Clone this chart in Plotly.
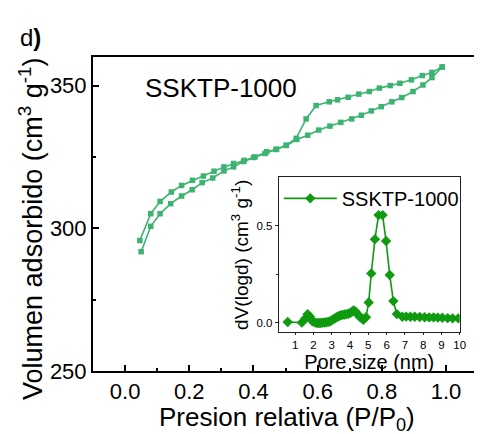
import plotly.graph_objects as go

# Main isotherm data
ads_p = [0.05, 0.08, 0.109, 0.142, 0.176, 0.209, 0.24, 0.273, 0.308, 0.338, 0.369, 0.4, 0.436, 0.47,
         0.502, 0.535, 0.569, 0.603, 0.638, 0.672, 0.706, 0.736, 0.767, 0.798, 0.831, 0.862, 0.897,
         0.928, 0.956, 0.988]
ads_v = [291.8, 300.7, 305.1, 308.6, 311.3, 313.5, 316.0, 317.6, 320.1, 321.5, 323.4, 324.8, 326.2,
         327.6, 329.0, 331.1, 332.6, 334.4, 335.8, 337.1, 338.3, 339.6, 341.1, 342.6, 344.3, 345.8,
         347.9, 350.2, 352.8, 356.5]
des_p = [0.988, 0.956, 0.926, 0.892, 0.856, 0.826, 0.792, 0.761, 0.728, 0.695, 0.662, 0.636, 0.595,
         0.564, 0.533, 0.502, 0.472, 0.441, 0.405, 0.371, 0.338, 0.308, 0.277, 0.244, 0.21, 0.176,
         0.144, 0.109, 0.08, 0.046]
des_v = [356.5, 354.6, 353.5, 352.0, 350.8, 350.0, 349.1, 347.9, 347.0, 345.9, 345.0, 344.3, 343.0,
         338.3, 331.5, 329.1, 327.7, 326.8, 325.0, 323.8, 322.7, 321.5, 320.0, 318.3, 316.8, 315.0,
         312.7, 309.4, 305.1, 295.7]

# Inset pore size distribution
pore_size = [0.59, 1.36, 1.54, 1.68, 1.81, 1.94, 2.08, 2.2, 2.3, 2.4, 2.5, 2.6, 2.7, 2.8, 2.9, 3.0,
             3.1, 3.2, 3.3, 3.4, 3.5, 3.6, 3.7, 3.8, 3.9, 4.0, 4.1, 4.19, 4.3, 4.42, 4.53, 4.64, 4.73,
             4.87, 5.02, 5.16, 5.36, 5.56, 5.78, 5.97, 6.17, 6.37, 6.56, 6.86, 7.07, 7.3, 7.54, 7.81,
             8.08, 8.33, 8.57, 8.8, 9.05, 9.34, 9.61, 9.92]
dv_logd = [0.003, 0.0, 0.02, 0.043, 0.03, 0.007, 0.0, -0.002, -0.002, -0.002, 0.0, 0.0, 0.002, 0.004,
           0.006, 0.012, 0.018, 0.024, 0.03, 0.034, 0.038, 0.04, 0.042, 0.044, 0.046, 0.05, 0.056,
           0.063, 0.058, 0.042, 0.03, 0.022, 0.015, 0.028, 0.104, 0.254, 0.43, 0.555, 0.555, 0.421,
           0.246, 0.111, 0.044, 0.03, 0.031, 0.03, 0.03, 0.029, 0.028, 0.027, 0.027, 0.026, 0.025,
           0.023, 0.022, 0.022]

sample = "SSKTP-1000"
main_color = "#3CB371"
inset_color = "#0f9a0f"
FONT = "Liberation Sans, Arial, sans-serif"

fig = go.Figure()
for px_, pv_ in [(ads_p, ads_v), (des_p, des_v)]:
    fig.add_trace(go.Scatter(x=px_, y=pv_, mode="lines+markers",
                             line=dict(color=main_color, width=1.6),
                             marker=dict(symbol="square", size=5.5, color=main_color),
                             showlegend=False, xaxis="x", yaxis="y"))

fig.add_trace(go.Scatter(x=pore_size, y=dv_logd, mode="lines+markers", name=sample,
                         line=dict(color=inset_color, width=1.6),
                         marker=dict(symbol="diamond", size=8, color=inset_color),
                         showlegend=True, xaxis="x2", yaxis="y2"))

fig.update_layout(
    width=480, height=434,
    margin=dict(l=93, r=0, t=57, b=63),
    paper_bgcolor="white", plot_bgcolor="white",
    font=dict(family=FONT, color="black"),
    xaxis=dict(domain=[0, 1], range=[-0.1, 1.087], showline=True, linecolor="black", linewidth=2,
               mirror=True, ticks="inside", ticklen=6, tickwidth=2, tickcolor="black",
               tickvals=[0.0, 0.2, 0.4, 0.6, 0.8, 1.0],
               ticktext=["0.0", "0.2", "0.4", "0.6", "0.8", "1.0"],
               minor=dict(dtick=0.1, ticks="inside", ticklen=3, tickwidth=2, tickcolor="black", showgrid=False),
               showgrid=False, zeroline=False, tickfont=dict(size=22)),
    yaxis=dict(domain=[0, 1], range=[250, 360], showline=True, linecolor="black", linewidth=2,
               mirror=False, ticks="inside", ticklen=6, tickwidth=2, tickcolor="black",
               tickvals=[250, 300, 350], ticktext=["250", "300", "350"],
               minor=dict(dtick=25, ticks="inside", ticklen=3, tickwidth=2, tickcolor="black", showgrid=False),
               showgrid=False, zeroline=False, tickfont=dict(size=22)),
    xaxis2=dict(domain=[0.4876, 0.9625], anchor="y2", range=[0.1, 10], showline=True, linecolor="#222",
                linewidth=1.2, mirror=True, ticks="outside", ticklen=2, tickcolor="#222",
                tickvals=list(range(1, 11)), showgrid=False, zeroline=False, tickfont=dict(size=11.5),
                title=dict(text="Pore size (nm)", font=dict(size=20), standoff=0)),
    yaxis2=dict(domain=[0.1232, 0.6169], anchor="x2", range=[-0.05, 0.75], showline=True, linecolor="#222",
                linewidth=1.2, mirror=True, ticks="outside", ticklen=3, tickcolor="#222",
                tickvals=[0.0, 0.5], ticktext=["0.0", "0.5"],
                minor=dict(tickvals=[0.25], ticks="outside", ticklen=2, tickcolor="#222"),
                showgrid=False, zeroline=False, tickfont=dict(size=11.5),
                title=dict(text="dV(logd) (cm<sup>3</sup> g<sup>-1</sup>)", font=dict(size=19), standoff=2)),
    legend=dict(x=0.4876, y=0.612, xanchor="left", yanchor="top", bgcolor="rgba(0,0,0,0)",
                font=dict(size=20), itemwidth=53, borderwidth=0),
    annotations=[
        dict(text=sample, xref="paper", yref="paper", x=(144 - 93) / 387, y=(371 - 88) / 314,
             xanchor="left", yanchor="middle", showarrow=False, font=dict(size=26)),
        dict(text="d<b>)</b>", xref="paper", yref="paper", x=(17 - 93) / 387, y=(371 - 38) / 314,
             xanchor="left", yanchor="middle", showarrow=False, font=dict(size=24)),
        dict(text="Volumen adsorbido (cm<sup>3</sup> g<sup>-1</sup>)", xref="paper", yref="paper",
             x=(30 - 93) / 387, y=(371 - 228) / 314, xanchor="center", yanchor="middle",
             textangle=-90, showarrow=False, font=dict(size=27)),
        dict(text="Presion relativa (P/P<sub>0</sub>)", xref="paper", yref="paper",
             x=(290 - 93) / 387, y=(371 - 418) / 314, xanchor="center", yanchor="middle",
             showarrow=False, font=dict(size=26)),
    ],
)

fig.write_html("out.html")
